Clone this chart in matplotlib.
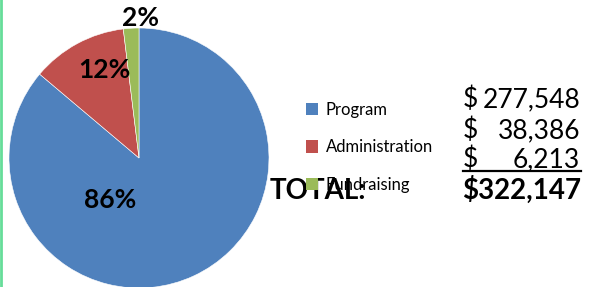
import matplotlib
matplotlib.use('Agg')
from matplotlib import pyplot as plt
from matplotlib.patches import Patch
from matplotlib.lines import Line2D

categories = ['Program', 'Administration', 'Fundraising']
amounts = [277548, 38386, 6213]
colors = ['#4F81BD', '#C0504D', '#9BBB59']

W, H = 592, 287
plt.rcParams['font.family'] = ['Lato', 'DejaVu Sans']

def fx(px):
	return px / W

def fy(py):
	return 1 - py / H

fig = plt.figure(figsize=(W / 100, H / 100), dpi=100)

# pie: centre around (139,158) px, radius 130 px
ax = fig.add_axes([fx(9), fy(288), 260 / W, 260 / H])
wedges, texts, autotexts = ax.pie(amounts, colors=colors, startangle=90,
								  counterclock=False, autopct='%1.0f%%',
								  wedgeprops=dict(edgecolor='white', linewidth=0.4),
								  textprops=dict(fontsize=19, fontweight='bold', color='black'))
ax.set_xlim(-1, 1)
ax.set_ylim(-1, 1)
ax.set_aspect('auto')
ax.set_clip_on(False)

# hand placed percentage labels (data units of the pie axes)
label_pos = [(-0.22, -0.32), (-0.27, 0.68), (0.01, 1.08)]
for t, p in zip(autotexts, label_pos):
	t.set_position(p)
	t.set_clip_on(False)

# big TOTAL label, drawn under the legend
fig.text(fx(270), fy(199), 'TOTAL:', fontsize=20, fontweight='bold',
		 ha='left', va='baseline', zorder=1)

handles = [Patch(facecolor=c, edgecolor='none') for c in colors]
leg = fig.legend(handles, categories, loc='upper left',
				 bbox_to_anchor=(fx(299), fy(95)), frameon=False,
				 fontsize=12, handlelength=0.75, handleheight=0.75,
				 handletextpad=0.45, labelspacing=1.3, borderaxespad=0)
leg.set_zorder(5)

# dollar column
baselines = [107, 138, 167]
for amt, yb in zip(amounts, baselines):
	fig.text(fx(463), fy(yb), '$', fontsize=19, ha='left', va='baseline')
	fig.text(fx(580), fy(yb), '{:,}'.format(amt), fontsize=19, ha='right', va='baseline')

fig.add_artist(Line2D([fx(463), fx(581)], [fy(170.5), fy(170.5)], color='black', lw=1.6))

fig.text(fx(581), fy(199), '${:,}'.format(sum(amounts)), fontsize=20,
		 fontweight='bold', ha='right', va='baseline')

# thin green border on the left edge
fig.add_artist(Line2D([fx(1), fx(1)], [0, 1], color='#66DD99', lw=2))

fig.savefig('out.png', dpi=100)
